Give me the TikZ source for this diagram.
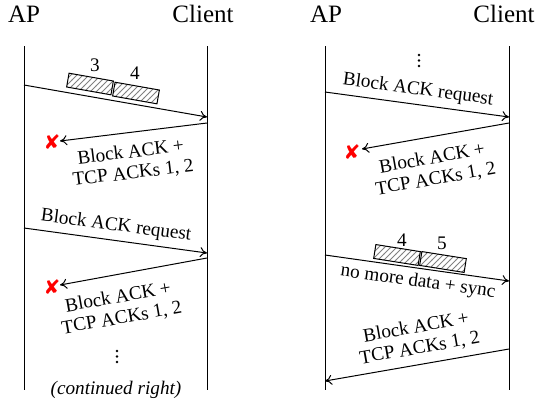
\documentclass[tikz,border=0pt]{standalone}
\usepackage{fontspec}
\setmainfont{Liberation Serif}
\newfontfamily\dejavu{DejaVu Sans}
\usetikzlibrary{arrows.meta,patterns}
\begin{document}
\begin{tikzpicture}[x=0.5pt,y=-0.5pt,
  lifeline/.style={line width=0.5pt},
  msg/.style={line width=0.5pt,-{To[length=3.5pt,width=5pt]}},
  lbl/.style={font=\fontsize{9.6}{10.5}\selectfont, inner sep=0pt, align=center},
  head/.style={font=\fontsize{12.5}{14}\selectfont, inner sep=0pt},
  pkt/.style={draw, line width=0.5pt, pattern=north east lines, pattern color=gray,
    minimum width=22.5pt, minimum height=7pt, inner sep=0pt},
  lost/.style={font=\dejavu\fontsize{10}{11}\selectfont, text=red, inner sep=0pt},
  dot/.style={circle, fill=black, inner sep=0pt, minimum size=1.4pt}]
\useasboundingbox (0,0) rectangle (537,404);
% headings
\node[head] (hap1) at (24,14) {AP};
\node[head] (hcl1) at (203,14) {Client};
\node[head] (hap2) at (326,14) {AP};
\node[head] (hcl2) at (504,14) {Client};
% lifelines
\coordinate (ap1t) at (24,46);  \coordinate (ap1b) at (24,390);
\coordinate (cl1t) at (207,46); \coordinate (cl1b) at (207,390);
\coordinate (ap2t) at (325,46); \coordinate (ap2b) at (325,390);
\coordinate (cl2t) at (509,46); \coordinate (cl2b) at (509,390);
\draw[lifeline] (ap1t) -- (ap1b);
\draw[lifeline] (cl1t) -- (cl1b);
\draw[lifeline] (ap2t) -- (ap2b);
\draw[lifeline] (cl2t) -- (cl2b);
% ---- left diagram ----
\coordinate (m1s) at (24,85);  \coordinate (m1e) at (207,117);
\draw[msg] (m1s) -- (m1e);
\node[pkt, rotate=-10] (p3) at (90,84) {};
\node[pkt, rotate=-10] (p4) at (136,93) {};
\node[lbl] (l3) at (95,65) {3};
\node[lbl] (l4) at (135,73) {4};

\coordinate (r1s) at (207,123); \coordinate (r1e) at (60,141);
\draw[msg] (r1s) -- (r1e);
\node[lost] (x1) at (52,142) {✘};
\node[lbl, rotate=7] (t1) at (132,163) {Block ACK +\\TCP ACKs 1, 2};

\coordinate (m2s) at (24,228); \coordinate (m2e) at (207,253);
\draw[msg] (m2s) -- (m2e);
\node[lbl, rotate=-7.5] (t2) at (116,226) {Block ACK request};

\coordinate (r2s) at (207,258); \coordinate (r2e) at (60,285);
\draw[msg] (r2s) -- (r2e);
\node[lost] (x2) at (52,287) {✘};
\node[lbl, rotate=10] (t3) at (120,308) {Block ACK +\\TCP ACKs 1, 2};

\node[dot] (d1a) at (117,351) {};
\node[dot] (d1b) at (117,356.5) {};
\node[dot] (d1c) at (117,362) {};
\node[lbl, font=\fontsize{9.6}{10.5}\selectfont\itshape] (cont) at (116,390) {(continued right)};
% ---- right diagram ----
\node[dot] (d2a) at (419,55) {};
\node[dot] (d2b) at (419,60.5) {};
\node[dot] (d2c) at (419,66) {};

\coordinate (m3s) at (325,92); \coordinate (m3e) at (509,117);
\draw[msg] (m3s) -- (m3e);
\node[lbl, rotate=-7.7] (t4) at (418,90) {Block ACK request};

\coordinate (r3s) at (509,123); \coordinate (r3e) at (362,149);
\draw[msg] (r3s) -- (r3e);
\node[lost] (x3) at (352,152) {✘};
\node[lbl, rotate=10] (t5) at (434,169) {Block ACK +\\TCP ACKs 1, 2};

\coordinate (m4s) at (325,255); \coordinate (m4e) at (509,281);
\draw[msg] (m4s) -- (m4e);
\node[pkt, rotate=-9] (q4) at (397,255) {};
\node[pkt, rotate=-9] (q5) at (443,262) {};
\node[lbl] (k4) at (402,240) {4};
\node[lbl] (k5) at (442,243) {5};
\node[lbl, rotate=-8] (t6) at (418,282) {no more data + sync};

\coordinate (r4s) at (509,349); \coordinate (r4e) at (325,381);
\draw[msg] (r4s) -- (r4e);
\node[lbl, rotate=10] (t7) at (418,338) {Block ACK +\\TCP ACKs 1, 2};
\end{tikzpicture}
\end{document}
